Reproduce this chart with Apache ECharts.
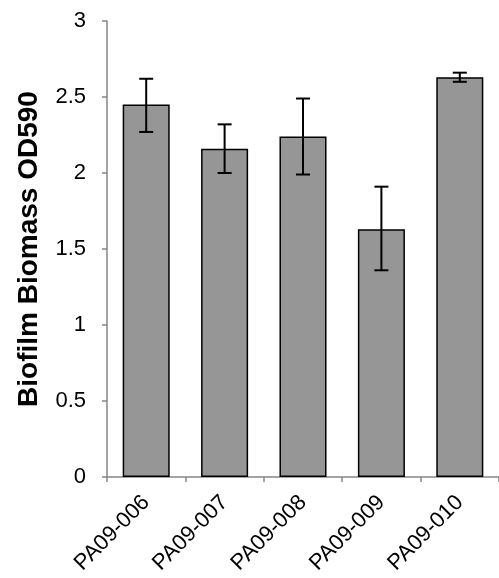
<!DOCTYPE html>
<html>
<head>
<meta charset="utf-8">
<script src="https://cdn.jsdelivr.net/npm/echarts@6/dist/echarts.min.js"></script>
<style>html,body{margin:0;padding:0;background:#fff}#c{width:499px;height:578px}</style>
</head>
<body>
<div id="c"></div>
<script>
var categories = ["PA09-006", "PA09-007", "PA09-008", "PA09-009", "PA09-010"];
var means = [2.45, 2.16, 2.24, 1.63, 2.63];
var errLow = [2.27, 2.00, 1.99, 1.36, 2.60];
var errHigh = [2.62, 2.32, 2.49, 1.91, 2.66];
var yTicks = [0, 0.5, 1, 1.5, 2, 2.5, 3];
var yTitle = "Biofilm Biomass OD590";

var errData = categories.map(function (c, i) { return [i, errLow[i], errHigh[i]]; });
var chart = echarts.init(document.getElementById('c'), null, {renderer: 'canvas'});
var FONT = 'Liberation Sans, Arial, sans-serif';
chart.setOption({
  animation: false,
  backgroundColor: '#fff',
  grid: {left: 107, top: 21, bottom: 101, width: 394, containLabel: false},
  xAxis: {
    type: 'category', data: categories,
    axisLine: {lineStyle: {color: '#868686', width: 1.5}},
    axisTick: {show: true, length: 5, lineStyle: {color: '#868686', width: 1.5}},
    axisLabel: {rotate: 45, margin: 22, fontFamily: FONT, fontSize: 22, color: '#000'}
  },
  yAxis: {
    type: 'value', min: 0, max: 3, interval: 0.5,
    name: yTitle, nameLocation: 'middle', nameGap: 64,
    nameTextStyle: {fontFamily: FONT, fontSize: 28, fontWeight: 'bold', color: '#000'},
    axisLine: {show: true, lineStyle: {color: '#868686', width: 1.5}},
    axisTick: {show: true, length: 5, lineStyle: {color: '#868686', width: 1.5}},
    splitLine: {show: false},
    axisLabel: {margin: 21, fontFamily: FONT, fontSize: 22, color: '#000',
      formatter: function (v) { return yTicks.indexOf(v) >= 0 ? String(v) : ''; }}
  },
  series: [{
    type: 'bar', data: means, barCategoryGap: '40%',
    itemStyle: {color: '#969696', borderColor: '#000', borderWidth: 1.5}
  }, {
    type: 'custom', data: errData, z: 10,
    renderItem: function (params, api) {
      var x = api.value(0);
      var lo = api.coord([x, api.value(1)]);
      var hi = api.coord([x, api.value(2)]);
      var hw = 7;
      var st = {stroke: '#000', lineWidth: 2};
      return {type: 'group', children: [
        {type: 'line', shape: {x1: lo[0], y1: lo[1], x2: hi[0], y2: hi[1]}, style: st},
        {type: 'line', shape: {x1: lo[0] - hw, y1: lo[1], x2: lo[0] + hw, y2: lo[1]}, style: st},
        {type: 'line', shape: {x1: hi[0] - hw, y1: hi[1], x2: hi[0] + hw, y2: hi[1]}, style: st}
      ]};
    }
  }]
});
</script>
</body>
</html>
